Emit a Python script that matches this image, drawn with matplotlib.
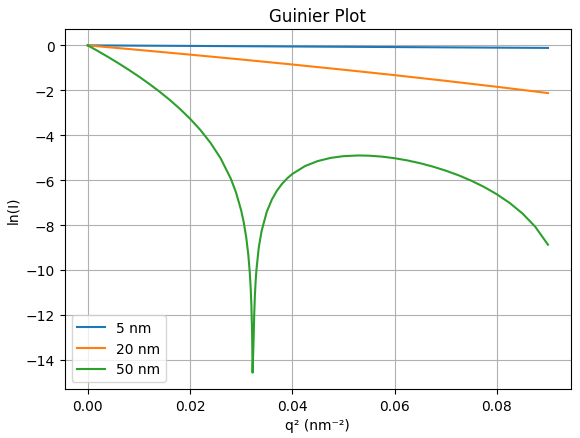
import matplotlib
matplotlib.use("Agg")
import matplotlib.pyplot as plt

# q^2 values (nm^-2) and ln(I)
q2_small = [0.0, 0.01, 0.02, 0.03, 0.04, 0.05, 0.06, 0.07, 0.08, 0.09]
lnI_5nm = [0.0, -0.0125, -0.0250, -0.0376, -0.0502, -0.0628, -0.0754, -0.0880, -0.1007, -0.1134]
lnI_20nm = [0.0, -0.2029, -0.4122, -0.6283, -0.8521, -1.0844, -1.3265, -1.5795, -1.8449, -2.1243]

q2_50nm = [0.0, 0.001, 0.002, 0.004, 0.006, 0.008, 0.010, 0.012, 0.014, 0.016,
           0.018, 0.020, 0.022, 0.024, 0.026, 0.028, 0.029, 0.030, 0.0305, 0.031,
           0.0314, 0.031684, 0.031857, 0.032, 0.032143, 0.032238, 0.032458, 0.032544,
           0.032689, 0.032833, 0.033, 0.033416, 0.0335, 0.034, 0.035, 0.036, 0.037,
           0.038, 0.039, 0.040, 0.0425, 0.045, 0.0475, 0.050, 0.0529, 0.055, 0.0575,
           0.060, 0.0625, 0.065, 0.0675, 0.070, 0.0725, 0.075, 0.0775, 0.080, 0.0825,
           0.085, 0.0875, 0.090]
lnI_50nm = [0.0, -0.1262, -0.2546, -0.5194, -0.7954, -1.0844, -1.3885, -1.7102, -2.0531, -2.4215,
            -2.8221, -3.2637, -3.7610, -4.3369, -5.0342, -5.9459, -6.5498, -7.3456, -7.8732, -8.5599,
            -9.3222, -10.0975, -10.7547, -11.5437, -12.817, -14.574, -12.965, -12.0739,
            -11.1398, -10.5104, -9.9740, -9.0696, -8.9301, -8.2695, -7.4214, -6.8696, -6.4708,
            -6.1654, -5.9235, -5.7275, -5.3744, -5.1507, -5.0119, -4.9342, -4.9030, -4.9126, -4.9541,
            -5.0251, -5.1236, -5.2485, -5.3996, -5.5783, -5.7848, -6.0267, -6.3038, -6.6315, -7.0168,
            -7.4840, -8.0743, -8.877]

labels = ["5 nm", "20 nm", "50 nm"]

W, H = 580, 439
fig = plt.figure(figsize=(W / 100, H / 100), dpi=100)
ax = fig.add_axes([64.7 / W, (H - 390) / H, (571 - 64.7) / W, (390 - 30) / H])
ax.plot(q2_small, lnI_5nm, label=labels[0])
ax.plot(q2_small, lnI_20nm, label=labels[1])
ax.plot(q2_50nm, lnI_50nm, label=labels[2])
ax.set_title("Guinier Plot")
ax.set_xlabel("q² (nm⁻²)")
ax.set_ylabel("ln(I)")
ax.grid(True)
ax.legend(loc="lower left")
fig.savefig("out.png", dpi=100)
